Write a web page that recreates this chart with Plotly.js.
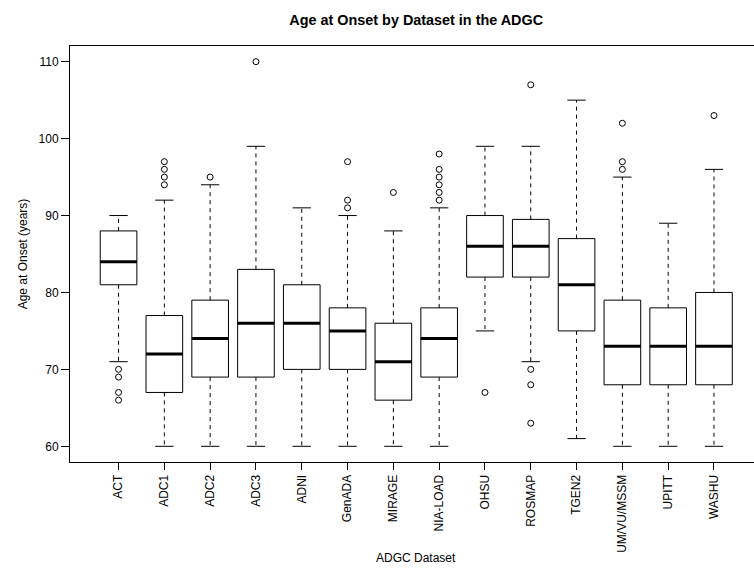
<!DOCTYPE html>
<html>
<head>
<meta charset="utf-8">
<script src="https://cdn.plot.ly/plotly-3.0.1.min.js"></script>
<style>html,body{margin:0;padding:0;background:#fff;}#chart{width:754px;height:572px;}</style>
</head>
<body>
<div id="chart"></div>
<script>
// ---- data ----
var categories = ["ACT","ADC1","ADC2","ADC3","ADNI","GenADA","MIRAGE","NIA-LOAD","OHSU","ROSMAP","TGEN2","UM/VU/MSSM","UPITT","WASHU"];
var lowerWhisker = [71, 60, 60, 60, 60, 60, 60, 60, 75, 71, 61, 60, 60, 60];
var q1Values     = [81, 67, 69, 69, 70, 70, 66, 69, 82, 82, 75, 68, 68, 68];
var medianValues = [84, 72, 74, 76, 76, 75, 71, 74, 86, 86, 81, 73, 73, 73];
var q3Values     = [88, 77, 79, 83, 81, 78, 76, 78, 90, 89.5, 87, 79, 78, 80];
var upperWhisker = [90, 92, 94, 99, 91, 90, 88, 91, 99, 99, 105, 95, 89, 96];
var outlierValues = [
  [70, 69, 67, 66],
  [97, 96, 95, 94],
  [95],
  [110],
  [],
  [97, 92, 91],
  [93],
  [98, 96, 95, 94, 93, 92],
  [67],
  [107, 70, 68, 63],
  [],
  [102, 97, 96],
  [],
  [103]
];

// ---- styling ----
var BOX_HALF = 0.4, CAP_HALF = 0.2;
var FONT = "Liberation Sans, Arial, Helvetica, sans-serif";

var boxX = [], boxY = [], medX = [], medY = [], whX = [], whY = [], capX = [], capY = [], outX = [], outY = [];
categories.forEach(function (c, i) {
  boxX.push(i - BOX_HALF, i + BOX_HALF, i + BOX_HALF, i - BOX_HALF, i - BOX_HALF, null);
  boxY.push(q1Values[i], q1Values[i], q3Values[i], q3Values[i], q1Values[i], null);
  medX.push(i - BOX_HALF, i + BOX_HALF, null);
  medY.push(medianValues[i], medianValues[i], null);
  whX.push(i, i, null, i, i, null);
  whY.push(q3Values[i], upperWhisker[i], null, q1Values[i], lowerWhisker[i], null);
  capX.push(i - CAP_HALF, i + CAP_HALF, null, i - CAP_HALF, i + CAP_HALF, null);
  capY.push(upperWhisker[i], upperWhisker[i], null, lowerWhisker[i], lowerWhisker[i], null);
  outlierValues[i].forEach(function (v) { outX.push(i); outY.push(v); });
});

var traces = [
  {type: "scatter", mode: "lines", x: whX, y: whY, line: {color: "#000", width: 1, dash: "4px,4px"}, hoverinfo: "skip", showlegend: false},
  {type: "scatter", mode: "lines", x: capX, y: capY, line: {color: "#000", width: 1}, hoverinfo: "skip", showlegend: false},
  {type: "scatter", mode: "lines", x: boxX, y: boxY, line: {color: "#000", width: 1}, hoverinfo: "skip", showlegend: false},
  {type: "scatter", mode: "lines", x: medX, y: medY, line: {color: "#000", width: 3}, hoverinfo: "skip", showlegend: false},
  {type: "scatter", mode: "markers", x: outX, y: outY, marker: {symbol: "circle-open", size: 6, color: "#000", line: {width: 1, color: "#000"}}, hoverinfo: "y", showlegend: false}
];

var layout = {
  width: 754, height: 572,
  margin: {l: 70, r: 0, t: 46, b: 110},
  paper_bgcolor: "#fff", plot_bgcolor: "#fff",
  font: {family: FONT, size: 12, color: "#000"},
  title: {text: "<b>Age at Onset by Dataset in the ADGC</b>", font: {family: FONT, size: 14.4, color: "#000"},
          xref: "container", x: 0.552, xanchor: "center", yref: "container", y: 1 - 20 / 572, yanchor: "middle"},
  xaxis: {
    range: [-1.06, 13.874], tickmode: "array", tickvals: categories.map(function (c, i) { return i; }), ticktext: categories,
    tickangle: -90, ticks: "outside", ticklen: 7, tickcolor: "#000", tickwidth: 1,
    showline: true, mirror: true, linecolor: "#000", linewidth: 1, showgrid: false, zeroline: false,
    tickfont: {family: FONT, size: 12, color: "#000"}
  },
  yaxis: {
    range: [57.96, 112.04], tickmode: "array", tickvals: [60, 70, 80, 90, 100, 110],
    ticks: "outside", ticklen: 8, tickcolor: "#000", tickwidth: 1,
    showline: true, mirror: false, linecolor: "#000", linewidth: 1, showgrid: false, zeroline: false,
    tickfont: {family: FONT, size: 12, color: "#000"},
    title: {text: "Age at Onset (years)", font: {family: FONT, size: 12, color: "#000"}, standoff: 8}
  },
  annotations: [{
    text: "ADGC Dataset", xref: "paper", yref: "paper", x: 346 / 684, y: -96 / 416,
    xanchor: "center", yanchor: "middle", showarrow: false, font: {family: FONT, size: 12, color: "#000"}
  }]
};

Plotly.newPlot("chart", traces, layout, {displayModeBar: false, staticPlot: true});
</script>
</body>
</html>
